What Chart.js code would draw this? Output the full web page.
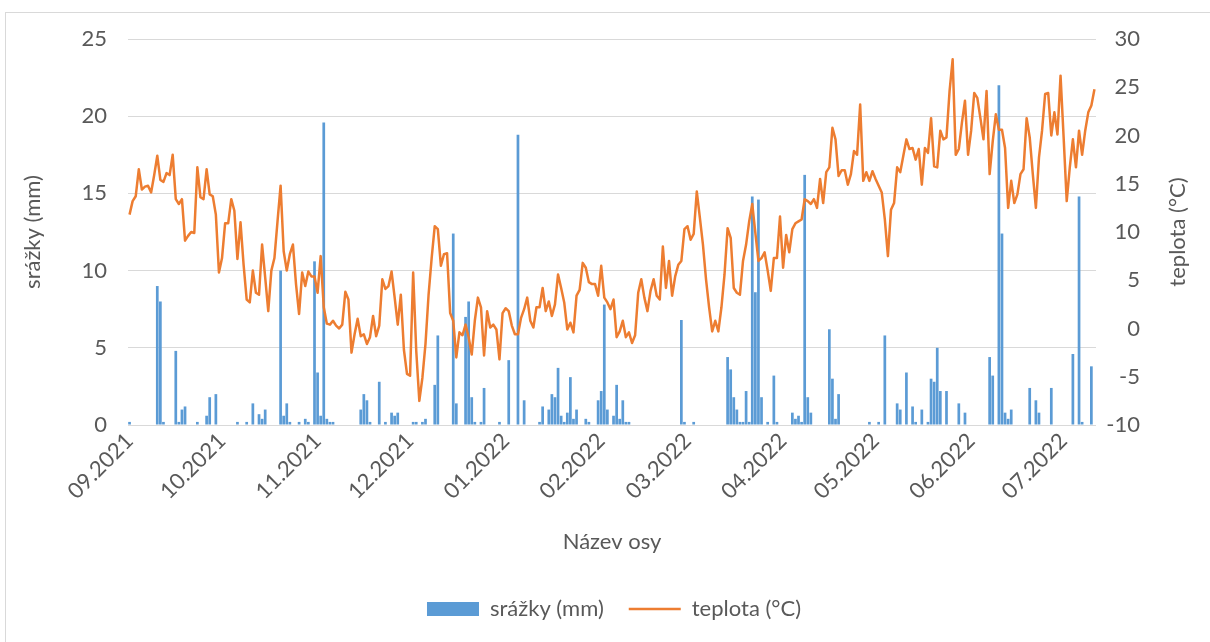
<!DOCTYPE html>
<html>
<head>
<meta charset="utf-8">
<script src="https://cdn.jsdelivr.net/npm/chart.js@4.4.0/dist/chart.umd.min.js"></script>
<style>
  html, body { margin: 0; padding: 0; background: #fff; overflow: hidden; }
  #frame { position: absolute; left: 5px; top: 12px; width: 1300px; height: 700px; border: 1px solid #d9d9d9; }
  #chart { position: absolute; left: 0; top: 0; }
</style>
</head>
<body>
<div id="frame"></div>
<canvas id="chart" width="1210" height="642"></canvas>
<script>
// daily values, 1.9.2021 - 11.7.2022
const monthLabels = ['09.2021', '10.2021', '11.2021', '12.2021', '01.2022', '02.2022',
  '03.2022', '04.2022', '05.2022', '06.2022', '07.2022'];

const rainSep = [0.2,0,0,0,0,0,0,0,0,9.0, 8.0,0.2,0,0,0,4.8,0.2,1.0,1.2,0, 0,0,0.2,0,0,0.6,1.8,0,2.0,0];
const rainOct = [0,0,0,0,0,0.2,0,0,0.2,0, 1.4,0,0.7,0.4,1.0,0,0,0,0,10.0, 0.6,1.4,0.2,0,0,0.2,0,0.4,0.2,0, 10.6];
const rainNov = [3.4,0.6,19.6,0.4,0.2,0.2,0,0,0,0, 0,0,0,0,1.0,2.0,1.6,0.2,0,0, 2.8,0,0.2,0,0.8,0.6,0.8,0,0,0];
const rainDec = [0,0.2,0.2,0,0.2,0.4,0,0,2.6,5.8, 0,0,0,0,12.4,1.4,0,0,7.0,8.0, 1.8,0.2,0,0.2,2.4,0,0,0,0,0.2, 0];
const rainJan = [0,4.2,0,0,18.8,0,1.6,0,0,0, 0,0.2,1.2,0,1.0,2.0,1.8,3.7,0.6,0.2, 0.8,3.1,0.4,1.0,0,0,0.4,0.2,0,0, 1.6];
const rainFeb = [2.2,7.8,1.0,0,0.6,2.6,0.4,1.6,0.2,0.2, 0,0,0,0,0,0,0,0,0,0, 0,0,0,0,0,0,6.8,0.2];
const rainMar = [0,0,0.2,0,0,0,0,0,0,0, 0,0,0,4.4,3.6,1.8,1.0,0.2,0.2,2.2, 0.2,14.8,8.6,14.6,1.8,0,0.2,0,3.2,0.2, 0];
const rainApr = [0,0,0,0.8,0.4,0.6,0.2,16.2,1.8,0.8, 0,0,0,0,0,6.2,3.0,0.4,2.0,0, 0,0,0,0,0,0,0,0,0.2,0];
const rainMay = [0,0.2,0,5.8,0,0,0,1.4,1.0,0, 3.4,0,1.2,0.2,0,1.0,0,0.2,3.0,2.8, 5.0,2.2,0,2.2,0,0,0,1.4,0,0.8, 0];
const rainJun = [0,0,0,0,0,0,4.4,3.2,0,22.0, 12.4,0.8,0.4,1.0,0,0,0,0,0,2.4, 0,1.6,0.8,0,0,0,2.4,0,0,0];
const rainJul = [0,0,0,4.6,0,14.8,0.2,0,0,3.8,0];

const tempSep = [11.8,13.2,13.7,16.5,14.4,14.7,14.8,14.1,15.9,17.9, 15.4,15.2,16.1,15.9,18.0,13.4,12.9,13.4,9.1,9.6, 10.0,9.9,16.7,13.6,13.4,16.5,13.9,13.7,11.8,5.8];
const tempOct = [7.3,10.9,10.9,13.4,12.2,7.2,11.0,6.6,3.0,2.7, 6.0,3.7,3.5,8.7,5.3,1.8,6.0,7.3,11.1,14.8, 8.0,6.0,7.7,8.7,4.6,1.5,5.8,4.4,5.9,5.4, 5.4];
const tempNov = [3.7,7.5,2.2,0.5,0.4,0.8,0.3,0.0,0.4,3.8, 3.0,-2.5,-0.6,1.0,-0.8,-0.6,-1.6,-0.9,1.3,-0.8, 0.3,5.1,4.1,4.4,5.9,3.2,0.4,3.5,-2.2,-4.7];
const tempDec = [-4.9,5.8,-2.3,-7.5,-5.1,-1.6,3.5,7.3,10.6,10.3, 6.5,7.7,7.8,1.6,0.8,-3.0,-0.4,-0.7,0.4,-0.9, -2.7,0.8,3.2,2.2,-2.8,1.8,0.1,0.4,-0.1,-3.2, 1.6];
const tempJan = [2.1,1.8,0.3,-0.6,-0.6,1.1,2.0,3.2,0.8,0.1, 2.2,2.2,4.2,1.8,2.8,1.3,2.5,5.6,4.2,2.7, -0.1,0.6,-0.4,3.4,4.0,6.8,6.3,4.8,4.6,4.6, 3.4];
const tempFeb = [6.5,3.2,2.7,2.0,3.0,-0.9,-0.3,0.8,-0.9,-0.4, -1.5,-0.7,3.7,5.1,3.2,1.8,3.9,5.1,3.4,3.0, 8.5,4.2,7.0,3.4,5.4,6.6,7.0,10.3];
const tempMar = [10.6,9.2,9.8,14.2,11.5,8.7,5.1,2.2,-0.3,0.8, -0.3,2.2,5.6,10.4,9.4,4.2,3.7,3.5,7.0,8.7, 11.1,12.9,9.9,7.0,7.3,7.9,6.0,3.9,7.3,7.3, 11.6];
const tempApr = [6.3,9.7,7.9,10.3,10.9,11.1,11.3,13.4,13.2,12.9, 13.4,12.5,15.5,13.0,16.2,16.7,20.8,19.6,15.8,16.4, 16.4,14.9,16.0,18.4,18.0,23.2,15.3,16.2,15.3,16.3];
const tempMay = [15.5,14.8,14.1,11.3,7.5,12.3,13.0,16.7,16.2,17.9, 19.6,18.6,18.7,17.5,18.6,14.9,18.7,18.2,21.8,16.8, 16.7,20.5,19.6,19.8,24.6,27.9,18.0,18.6,21.3,23.6, 18.0];
const tempJun = [20.5,24.4,23.9,21.8,19.6,24.6,16.0,19.4,22.2,20.6, 20.6,18.7,12.5,15.3,13.0,13.9,16.0,16.5,21.8,19.8, 16.0,12.5,17.7,20.5,24.3,24.4,20.0,22.4,20.1,26.2];
const tempJul = [19.8,13.2,16.7,19.6,16.7,20.5,18.0,20.5,22.4,23.1,24.8];

const precipitation = [].concat(rainSep, rainOct, rainNov, rainDec, rainJan, rainFeb,
  rainMar, rainApr, rainMay, rainJun, rainJul);
const temperature = [].concat(tempSep, tempOct, tempNov, tempDec, tempJan, tempFeb,
  tempMar, tempApr, tempMay, tempJun, tempJul);

// category labels: one per day, dd.mm.yyyy
const categories = [];
for (let i = 0; i < precipitation.length; i++) {
  const d = new Date(2021, 8, 1 + i);
  const dd = String(d.getDate()).padStart(2, '0');
  const mm = String(d.getMonth() + 1).padStart(2, '0');
  categories.push(dd + '.' + mm + '.' + d.getFullYear());
}

const textColor = '#595959';
const fontSize = 22;

const rightTitle = {
  id: 'rightTitle',
  afterDraw(chart) {
    const ctx = chart.ctx;
    const area = chart.chartArea;
    ctx.save();
    ctx.font = fontSize + 'px Lato';
    ctx.fillStyle = textColor;
    ctx.translate(1178, (area.top + area.bottom) / 2);
    ctx.rotate(-Math.PI / 2);
    ctx.textAlign = 'center';
    ctx.textBaseline = 'middle';
    ctx.fillText('teplota (°C)', 0, 0);
    ctx.restore();
  }
};

function draw() {
  Chart.defaults.font.family = 'Lato';
  Chart.defaults.font.size = fontSize;
  Chart.defaults.color = textColor;

  new Chart(document.getElementById('chart'), {
    type: 'bar',
    data: {
      labels: categories,
      datasets: [
        {
          type: 'bar',
          label: 'srážky (mm)',
          data: precipitation,
          yAxisID: 'y',
          backgroundColor: '#5B9BD5',
          borderWidth: 0,
          barPercentage: 0.88,
          categoryPercentage: 1.0,
          pointStyle: 'rect',
          order: 1
        },
        {
          type: 'line',
          label: 'teplota (°C)',
          data: temperature,
          yAxisID: 'y1',
          borderColor: '#ED7D31',
          backgroundColor: '#ED7D31',
          borderWidth: 2.5,
          borderJoinStyle: 'round',
          pointRadius: 0,
          pointHoverRadius: 0,
          pointStyle: 'line',
          tension: 0,
          order: 0
        }
      ]
    },
    options: {
      responsive: false,
      animation: false,
      layout: { padding: { left: 18, right: 0, top: 39, bottom: 12 } },
      plugins: {
        legend: {
          position: 'bottom',
          reverse: true,
          labels: {
            usePointStyle: true,
            pointStyleWidth: 52,
            boxHeight: 14,
            padding: 25,
            color: textColor
          }
        },
        tooltip: { enabled: false }
      },
      scales: {
        x: {
          grid: { display: false, drawTicks: false },
          border: { display: false },
          ticks: {
            autoSkip: false,
            minRotation: 45,
            maxRotation: 45,
            padding: 3,
            callback: function(value) {
              const label = categories[value];
              const month = label.slice(3);
              if (label.slice(0, 2) === '01') {
                return monthLabels.includes(month) ? month : '';
              }
              return '';
            }
          },
          title: { display: true, text: 'Název osy', padding: { top: 0, bottom: 17.8 } },
          afterFit(scale) { scale.height = 148; }
        },
        y: {
          position: 'left',
          min: 0,
          max: 25,
          ticks: { stepSize: 5, padding: 21 },
          grid: { color: '#d9d9d9', lineWidth: 1, drawTicks: false },
          border: { display: false },
          title: { display: true, text: 'srážky (mm)', padding: { top: 2, bottom: 0 } },
          afterFit(scale) { scale.width = 110; }
        },
        y1: {
          position: 'right',
          weight: 0,
          min: -10,
          max: 30,
          ticks: { stepSize: 5, padding: 0, crossAlign: 'far' },
          grid: { display: false, drawTicks: false },
          border: { display: false },
          afterFit(scale) { scale.width = 44; }
        },
        // empty strip on the right that holds the rotated axis title
        y2: {
          position: 'right',
          weight: 1,
          display: true,
          ticks: { display: false },
          grid: { display: false, drawTicks: false },
          border: { display: false },
          afterFit(scale) { scale.width = 70; }
        }
      }
    },
    plugins: [rightTitle]
  });
}

if (document.fonts && document.fonts.load) {
  document.fonts.load(fontSize + 'px Lato').then(draw, draw);
} else {
  draw();
}
</script>
</body>
</html>
